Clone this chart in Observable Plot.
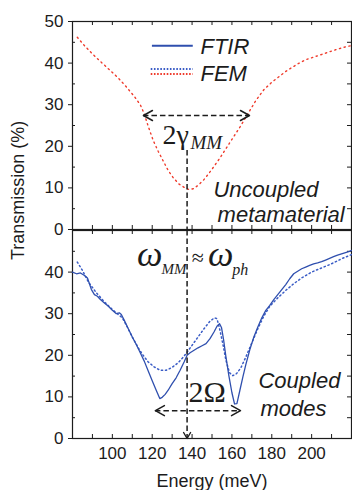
<!DOCTYPE html>
<html><head><meta charset="utf-8">
<script src="https://cdn.jsdelivr.net/npm/d3@7"></script>
<script src="https://cdn.jsdelivr.net/npm/@observablehq/plot@0.6"></script>
<style>
html,body{margin:0;padding:0;background:#fff;}
#wrap{position:relative;width:352px;height:490px;overflow:hidden;background:#fff;}
#wrap svg{position:absolute;left:0;}
</style></head><body><div id="wrap"></div>
<script>
// ---- data ----
const xDomain = [80, 220];
const yDomain = [0, 50];
const xLabelTicks = [100, 120, 140, 160, 180, 200];
const xMinorTicks = [90, 100, 110, 120, 130, 140, 150, 160, 170, 180, 190, 200, 210];
const yTopTicks = [0, 10, 20, 30, 40, 50];
const yBotTicks = [0, 10, 20, 30, 40];
const yMinorTicks = [5, 15, 25, 35, 45];
const yRightTicks = [5, 10, 15, 20, 25, 30, 35, 40, 45];

// uncoupled metamaterial, FEM (red dotted)
const femTopE = [82.4,86,90,94,99,103,107,111,114,116,118,120.5,123,125.6,128,130.6,133.5,136.5,138.5,140.6,143,145.6,148,150.6,154,157.5,161,164,168,172,176,180,187,193,197,202,207,212,217,220];
const femTopT = [46.2,44.2,42.2,40.4,38.2,36.4,34.3,32.0,30.0,27.8,24.8,21.4,18.8,16.4,14.2,12.4,10.9,10.0,9.6,9.8,10.6,11.8,13.2,14.9,17.2,19.8,22.4,24.6,27.8,31.0,33.6,35.4,38.0,39.8,40.8,41.6,42.4,43.2,43.9,44.2];

// coupled modes, FTIR (solid blue)
const ftirE = [80,82,84,86,87.5,88.5,89.5,91,92.5,94,96,98,100,102,103.5,104.5,106,108,110,112,114,116,118,120,122,123.8,125,126.5,128,130,132,134,136,137.5,139,141,143,145,147,149,151,152.5,153.8,154.8,155.8,157,158.5,160,161.3,162.5,164,165.5,167,169,171,173,175,177,179,181,183,185,187,189,191,193,195,197,199,201,203,205,207,209,211,213,215,217,219,220];
const ftirT = [40.0,39.6,39.8,39.2,38.6,37.2,35.8,34.6,34.2,33.4,32.6,31.8,30.8,30.0,30.2,29.8,28.4,26.4,24.4,22.6,20.6,18.6,16.2,13.9,11.6,9.6,9.9,10.6,11.6,13.2,14.6,16.4,18.4,20.0,20.6,21.2,21.8,22.3,22.8,24.0,25.6,27.0,27.6,26.6,23.8,19.6,15.0,11.0,8.3,8.4,11.6,14.8,17.8,21.4,24.4,26.8,29.0,30.8,32.0,33.4,34.6,35.8,37.0,38.4,39.6,40.2,40.8,41.2,41.6,42.0,42.2,42.5,42.9,43.3,43.7,44.1,44.4,44.7,45.0,45.2];

// coupled modes, FEM (blue dotted)
const femBotE = [82.4,85,88,92,96.5,100,103,105,107.5,110,113,115,118,121,124,127,130,133,136,140,143,146,149,151.2,152.5,154,155.5,157,158.8,160.5,162.3,164.5,167,170,173,176,179,183,187,191,195,200,205,210,215,220];
const femBotT = [42.4,40.4,37.6,35.0,32.6,31.0,29.8,29.0,26.8,24.4,21.8,20.3,18.4,17.2,16.4,16.4,17.1,18.2,19.8,22.4,24.4,26.4,28.2,29.0,28.8,26.0,22.6,18.8,15.8,15.1,15.6,17.0,19.6,23.0,26.4,29.4,31.8,33.8,35.6,37.2,38.6,40.0,41.0,42.0,43.2,44.2];

// annotation anchors (energy, transmission)
const resonanceE = 137.5;
const resonanceTopStart = 19;
const widthArrow = {e1: 115.6, e2: 168.8, t: 27.4};   // 2 gamma_MM
const splitArrow = {e1: 121.6, e2: 164.3, t: 6.7};    // 2 Omega
const legendFTIR = {e1: 120.1, e2: 140.6, t: 44.2};
const legendFEMblue = {e1: 119.5, e2: 140.6, t: 38.6};
const legendFEMred = {e1: 119.5, e2: 140.6, t: 37.4};
const legendLabels = [{text: "FTIR", e: 144.2, t: 44.0}, {text: "FEM", e: 144.2, t: 37.5}];
const topNotes = [{text: "Uncoupled", e: 150.7, t: 9.6}, {text: "metamaterial", e: 152.8, t: 3.44}];
const botNotes = [{text: "Coupled", e: 173.3, t: 13.9}, {text: "modes", e: 174.3, t: 7.2}];
const yLabelCenterT = 9.4;

// ---- styling ----
const sans = "'Liberation Sans', Arial, Helvetica, sans-serif";
const serif = "'Liberation Serif', 'Times New Roman', serif";
const ink = "#1c1c1c";
const blue = "#2f4fae";
const blueDot = "#3a5cc6";
const red = "#ef3b2c";
const dash = "5.5,3";
const W = 352, ML = 72, MR = 1, PH = 208;
const PW = W - ML - MR;

const rows = (E, T) => E.map((e, i) => ({e, t: T[i]}));
const chevron = {draw(context) { context.moveTo(-5, 9); context.lineTo(0, 0); context.lineTo(5, 9); }};
const smallChevron = {draw(context) { context.moveTo(-3.5, 6); context.lineTo(0, 0); context.lineTo(3.5, 6); }};
const heads = (a) => [{e: a.e1, t: a.t, r: -90}, {e: a.e2, t: a.t, r: 90}];

function frameMarks(yTicks) {
  return [
    Plot.tickX(xMinorTicks, {x: d => d, insetTop: PH - 4, stroke: ink}),
    Plot.tickX(xMinorTicks, {x: d => d, insetBottom: PH - 4, stroke: ink}),
    Plot.tickY(yMinorTicks, {y: d => d, insetRight: PW - 3, stroke: ink}),
    Plot.tickY(yRightTicks, {y: d => d, insetLeft: PW - 4, stroke: ink}),
    Plot.axisY({ticks: yTicks, tickSize: 4, tickPadding: 5, label: null, fontSize: 17, fill: ink, stroke: ink}),
    Plot.frame({stroke: ink, strokeWidth: 1.2})
  ];
}

const common = {
  width: W, marginLeft: ML, marginRight: MR,
  x: {domain: xDomain},
  y: {domain: yDomain},
  style: {background: "transparent", overflow: "visible", fontFamily: sans, fontSize: "17px", color: ink}
};

const topPlot = Plot.plot({
  ...common,
  height: 230, marginTop: 21, marginBottom: 1,
  x: {domain: xDomain, axis: null},
  marks: [
    ...frameMarks(yTopTicks),
    Plot.line(rows(femTopE, femTopT), {x: "e", y: "t", stroke: red, strokeWidth: 1.4, strokeDasharray: "1.3,3.6", strokeLinecap: "round"}),
    Plot.ruleY([legendFTIR], {y: "t", x1: "e1", x2: "e2", stroke: blue, strokeWidth: 2}),
    Plot.ruleY([legendFEMblue], {y: "t", x1: "e1", x2: "e2", stroke: blueDot, strokeWidth: 2, strokeDasharray: "1.6,1.6"}),
    Plot.ruleY([legendFEMred], {y: "t", x1: "e1", x2: "e2", stroke: red, strokeWidth: 2, strokeDasharray: "1.6,1.6"}),
    Plot.text(legendLabels, {x: "e", y: "t", text: "text", textAnchor: "start", fontSize: 22, fontStyle: "italic", fill: ink}),
    Plot.ruleY([widthArrow], {y: "t", x1: "e1", x2: "e2", stroke: ink, strokeWidth: 1.5, strokeDasharray: dash}),
    Plot.vector(heads(widthArrow), {x: "e", y: "t", rotate: "r", shape: chevron, anchor: "start", stroke: ink, strokeWidth: 1.5}),
    Plot.text(["2γ"], {x: 125.2, y: 22.8, textAnchor: "start", fontFamily: serif, fontSize: 28, fill: ink}),
    Plot.text(["MM"], {x: 139.2, y: 20.9, textAnchor: "start", fontFamily: serif, fontStyle: "italic", fontSize: 19, fill: ink}),
    Plot.ruleX([resonanceE], {y1: resonanceTopStart, y2: 0, stroke: ink, strokeWidth: 1.5, strokeDasharray: dash}),
    Plot.text(topNotes, {x: "e", y: "t", text: "text", textAnchor: "start", fontSize: 22, fontStyle: "italic", fill: ink}),
    Plot.text(["Transmission (%)"], {y: yLabelCenterT, frameAnchor: "left", textAnchor: "middle", dx: -54, rotate: -90, fontSize: 18, fill: ink})
  ]
});

const botPlot = Plot.plot({
  ...common,
  height: 261, marginTop: 1, marginBottom: 52,
  marks: [
    ...frameMarks(yBotTicks),
    Plot.axisX({ticks: xLabelTicks, tickSize: 0, tickPadding: 8, label: null, fontSize: 17, fill: ink}),
    Plot.text(["Energy (meV)"], {frameAnchor: "bottom", textAnchor: "middle", dy: 48, fontSize: 18, fill: ink}),
    Plot.line(rows(femBotE, femBotT), {x: "e", y: "t", stroke: blueDot, strokeWidth: 1.5, strokeDasharray: "1.3,2.8", strokeLinecap: "round"}),
    Plot.line(rows(ftirE, ftirT), {x: "e", y: "t", stroke: blue, strokeWidth: 1.3}),
    Plot.ruleX([resonanceE], {y1: 50, y2: 0, stroke: ink, strokeWidth: 1.5, strokeDasharray: dash}),
    Plot.vector([resonanceE], {x: d => d, y: 0, rotate: 180, shape: smallChevron, anchor: "start", stroke: ink, strokeWidth: 1.4}),
    Plot.ruleY([splitArrow], {y: "t", x1: "e1", x2: "e2", stroke: ink, strokeWidth: 1.5, strokeDasharray: dash}),
    Plot.vector(heads(splitArrow), {x: "e", y: "t", rotate: "r", shape: chevron, anchor: "start", stroke: ink, strokeWidth: 1.5}),
    Plot.text(["2Ω"], {x: 138.2, y: 11.0, textAnchor: "start", fontFamily: serif, fontSize: 30, fill: ink}),
    Plot.text(["ω"], {x: 112.4, y: 44.3, textAnchor: "start", fontFamily: serif, fontStyle: "italic", fontSize: 36, fill: ink}),
    Plot.text(["MM"], {x: 124.6, y: 40.6, textAnchor: "start", fontFamily: serif, fontStyle: "italic", fontSize: 15, fill: ink}),
    Plot.text(["≈"], {x: 139.8, y: 43.3, textAnchor: "start", fontFamily: serif, fontSize: 22, fill: ink}),
    Plot.text(["ω"], {x: 148.0, y: 44.3, textAnchor: "start", fontFamily: serif, fontStyle: "italic", fontSize: 36, fill: ink}),
    Plot.text(["ph"], {x: 160.2, y: 40.6, textAnchor: "start", fontFamily: serif, fontStyle: "italic", fontSize: 16, fill: ink}),
    Plot.text(botNotes, {x: "e", y: "t", text: "text", textAnchor: "start", fontSize: 22, fontStyle: "italic", fill: ink})
  ]
});

const wrap = document.getElementById("wrap");
topPlot.style.top = "0px";
botPlot.style.top = "229px";
wrap.appendChild(botPlot);
wrap.appendChild(topPlot);
</script>
</body></html>
